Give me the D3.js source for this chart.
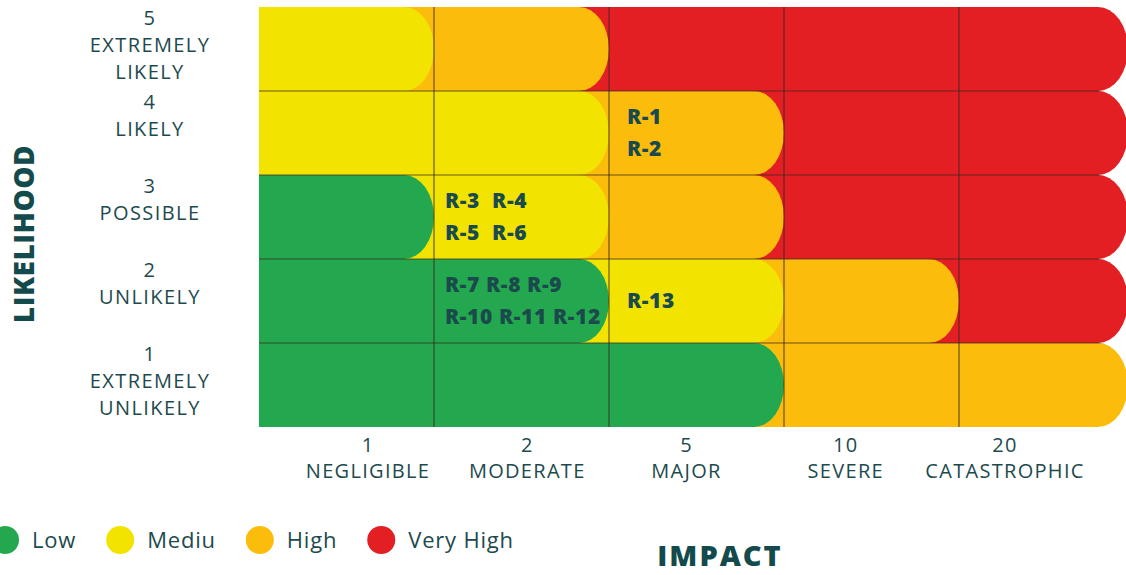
<!DOCTYPE html>
<html>
<head>
<meta charset="utf-8">
<script src="https://cdn.jsdelivr.net/npm/d3@7"></script>
<style>
  html, body { margin: 0; padding: 0; background: #fff; }
  svg { display: block; font-family: "Open Sans", "Noto Sans", sans-serif; }
</style>
</head>
<body>
<svg id="chart"></svg>
<script>
// data
var impactValues = [1, 2, 5, 10, 20];
var impactLabels = ["NEGLIGIBLE", "MODERATE", "MAJOR", "SEVERE", "CATASTROPHIC"];
var likelihoodValues = [5, 4, 3, 2, 1];
var likelihoodLabels = [["EXTREMELY", "LIKELY"], ["LIKELY"], ["POSSIBLE"], ["UNLIKELY"], ["EXTREMELY", "UNLIKELY"]];
var riskLevels = ["Low", "Mediu", "High", "Very High"];
var levelColors = ["#24a84f", "#f2e400", "#fbbc0c", "#e31f23"];
// level index for each cell, rows = likelihood 5..1, cols = impact 1..20
var levelMatrix = [
  [1, 2, 3, 3, 3],
  [1, 1, 2, 3, 3],
  [0, 1, 2, 3, 3],
  [0, 0, 1, 2, 3],
  [0, 0, 0, 2, 2]
];
var riskLikelihood = [4, 3, 2, 2];
var riskImpact = [5, 2, 2, 5];
var riskText = [["R-1", "R-2"], ["R-3  R-4", "R-5  R-6"], ["R-7 R-8 R-9", "R-10 R-11 R-12"], ["R-13"]];

var width = 1126, height = 575;
var textColor = "#1c4a4e";
var titleColor = "#134a4c";
var gridRight = 1128;

var svg = d3.select("#chart").attr("width", width).attr("height", height);

var x = d3.scaleBand().domain(impactValues).range([259, 1134]);
var y = d3.scaleBand().domain(likelihoodValues).range([7, 427]);
var bw = x.bandwidth(), bh = y.bandwidth();

function pill(x0, x1, y0, y1) {
  var rx = 30, ry = (y1 - y0) / 2;
  return "M" + x0 + "," + y0 + "H" + (x1 - rx) +
    "A" + rx + "," + ry + " 0 0 1 " + x1 + "," + (y0 + ry) +
    "A" + rx + "," + ry + " 0 0 1 " + (x1 - rx) + "," + y1 +
    "H" + x0 + "Z";
}

// one pill per level in each row, from the left edge to the last cell of that level
var pills = [];
levelMatrix.forEach(function(row, ri) {
  var levels = Array.from(new Set(row)).sort(function(a, b) { return b - a; });
  levels.forEach(function(lv, k) {
    var lastCol = row.lastIndexOf(lv);
    var x1 = Math.min(x(impactValues[lastCol]) + bw, gridRight);
    pills.push({ row: ri, level: lv, outer: k === 0,
      d: pill(x(impactValues[0]), x1, y(likelihoodValues[ri]), y(likelihoodValues[ri]) + bh) });
  });
});

svg.append("g").selectAll("path")
  .data(pills)
  .enter()
  .append("path")
  .attr("d", function(d) { return d.d; })
  .attr("fill", function(d) { return levelColors[d.level]; });

// grid lines, kept inside the outer pills
var clip = svg.append("defs").append("clipPath").attr("id", "rowsClip");
clip.selectAll("path")
  .data(pills.filter(function(d) { return d.outer; }))
  .enter()
  .append("path")
  .attr("d", function(d) { return d.d; });

var grid = svg.append("g")
  .attr("clip-path", "url(#rowsClip)")
  .attr("stroke", "#3a2a22")
  .attr("stroke-opacity", 0.75)
  .attr("stroke-width", 1.2);

grid.selectAll("line.v")
  .data(impactValues.slice(1))
  .enter()
  .append("line")
  .attr("x1", function(d) { return x(d); })
  .attr("x2", function(d) { return x(d); })
  .attr("y1", y.range()[0])
  .attr("y2", y.range()[1]);

grid.selectAll("line.h")
  .data(likelihoodValues.slice(1))
  .enter()
  .append("line")
  .attr("x1", x.range()[0])
  .attr("x2", gridRight)
  .attr("y1", function(d) { return y(d); })
  .attr("y2", function(d) { return y(d); });

// risk ids in cells
var riskG = svg.append("g")
  .attr("fill", "#1a4a4c")
  .attr("font-weight", 800)
  .attr("font-size", 21)
  .attr("letter-spacing", 0.6);

riskText.forEach(function(lines, i) {
  var cx = x(riskImpact[i]) + (riskImpact[i] === 5 ? 18 : 11);
  var cy = y(riskLikelihood[i]) + bh / 2;
  var step = lines.length > 1 ? 32 : 0;
  riskG.selectAll(null)
    .data(lines)
    .enter()
    .append("text")
    .attr("x", cx)
    .attr("y", function(d, j) { return cy + (j - (lines.length - 1) / 2) * step; })
    .attr("dy", "0.35em")
    .attr("xml:space", "preserve")
    .style("white-space", "pre")
    .text(function(d) { return d; });
});

// likelihood labels
var rowLab = svg.append("g")
  .attr("fill", textColor)
  .attr("font-size", 20)
  .attr("text-anchor", "middle");

likelihoodValues.forEach(function(v, i) {
  var lines = [String(v)].concat(likelihoodLabels[i]);
  rowLab.selectAll(null)
    .data(lines)
    .enter()
    .append("text")
    .attr("x", 150)
    .attr("y", function(d, j) { return y(v) + 11 + j * 27; })
    .attr("dy", "0.35em")
    .attr("letter-spacing", 1.4)
    .text(function(d) { return d; });
});

// impact labels
var xl = d3.scalePoint().domain(impactValues).range([368, 1005]);
var colLab = svg.append("g")
  .attr("fill", textColor)
  .attr("font-size", 20)
  .attr("letter-spacing", 1.3)
  .attr("text-anchor", "middle");

colLab.selectAll("text.num")
  .data(impactValues)
  .enter()
  .append("text")
  .attr("x", function(d) { return xl(d); })
  .attr("y", 445)
  .attr("dy", "0.35em")
  .text(function(d) { return d; });

colLab.selectAll("text.name")
  .data(impactLabels)
  .enter()
  .append("text")
  .attr("x", function(d, i) { return xl(impactValues[i]); })
  .attr("y", 471)
  .attr("dy", "0.35em")
  .text(function(d) { return d; });

// axis titles
svg.append("text")
  .attr("transform", "translate(34,234) rotate(-90)")
  .attr("text-anchor", "middle")
  .attr("fill", titleColor)
  .attr("font-weight", 800)
  .attr("font-size", 28)
  .attr("letter-spacing", 0.5)
  .text("LIKELIHOOD");

svg.append("text")
  .attr("x", 720)
  .attr("y", 566)
  .attr("text-anchor", "middle")
  .attr("fill", titleColor)
  .attr("font-weight", 800)
  .attr("font-size", 29)
  .attr("letter-spacing", 2)
  .text("IMPACT");

// legend
var legend = svg.append("g").attr("font-size", 22).attr("fill", textColor).attr("letter-spacing", 0.8);
var lx = 5;
riskLevels.forEach(function(name, i) {
  legend.append("ellipse")
    .attr("cx", lx)
    .attr("cy", 540)
    .attr("rx", 14)
    .attr("ry", 14)
    .attr("fill", levelColors[i]);
  var t = legend.append("text")
    .attr("x", lx + 27)
    .attr("y", 540)
    .attr("dy", "0.35em")
    .text(name);
  lx = lx + 27 + t.node().getComputedTextLength() + 44;
});
</script>
</body>
</html>
